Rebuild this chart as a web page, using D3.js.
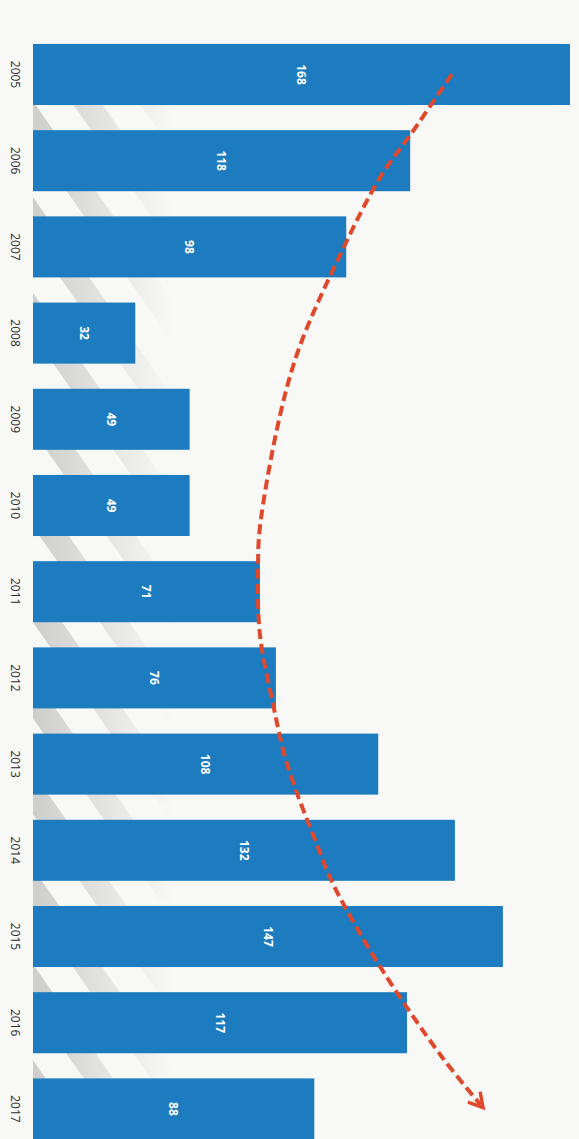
<html>
	<head>
		<script type="text/javascript" src="https://cdn.jsdelivr.net/npm/d3@7"></script>
		<style>
			body { margin: 0; background: #f8f8f6; }
			svg { display: block; }
			.year { font-family: "Open Sans", "DejaVu Sans", sans-serif; font-size: 12px; fill: #2a2a2a; }
			.val { font-family: "Open Sans", "DejaVu Sans", sans-serif; font-size: 12px; font-weight: bold; fill: #fff; }
		</style>
	</head>
	<body>
		<div id="chart"></div>
		<script>
			// chart data
			var years = ["2005", "2006", "2007", "2008", "2009", "2010", "2011", "2012", "2013", "2014", "2015", "2016", "2017"];
			var values = [168, 118, 98, 32, 49, 49, 71, 76, 108, 132, 147, 117, 88];

			// hand drawn trend arc, in data units (year position, value)
			var arcYears = [2005.0, 2005.65, 2006.2, 2007.1, 2008.15, 2008.95, 2010.25, 2010.7, 2011.5, 2012.25, 2013.0, 2013.95, 2014.4, 2015.35, 2016.4, 2016.95];
			var arcValues = [131, 119, 108.5, 96, 83.5, 77.3, 71, 70.4, 71, 74.8, 79.5, 89, 94, 108.6, 128, 140];

			var mainWidth = 579;
			var mainHeight = 1139;
			var barColor = "#1c7cbf";
			var arrowColor = "#e0482b";

			var svg = d3.select("#chart").append("svg")
				.attr("width", mainWidth)
				.attr("height", mainHeight);

			// scales: the chart is turned on its side, bars grow to the right
			var xScale = d3.scaleLinear().domain([0, 168]).range([33, 570]);
			var yScale = d3.scaleBand().domain(years)
				.range([18.8, 1164.6])
				.paddingInner(0.292).paddingOuter(0.292);
			var step = yScale.step();
			var yPos = function(yr) {
				return yScale(years[0]) + yScale.bandwidth() / 2 + (yr - 2005) * step;
			};

			// soft grey shadow stripes on the left (photo of the page)
			var defs = svg.append("defs");
			var pat = defs.append("pattern")
				.attr("id", "shadow")
				.attr("patternUnits", "userSpaceOnUse")
				.attr("width", 55).attr("height", 55)
				.attr("patternTransform", "rotate(-35)");
			pat.append("rect").attr("x", 0).attr("y", 0).attr("width", 24).attr("height", 55)
				.style("fill", "#b5b5b5");
			var fade = defs.append("linearGradient").attr("id", "fade");
			fade.append("stop").attr("offset", "0%").attr("stop-color", "#fff").attr("stop-opacity", 0.9);
			fade.append("stop").attr("offset", "100%").attr("stop-color", "#fff").attr("stop-opacity", 0);
			defs.append("mask").attr("id", "fadeMask").append("rect")
				.attr("x", 33).attr("y", 0).attr("width", 140).attr("height", mainHeight)
				.style("fill", "url(#fade)");
			svg.append("rect")
				.attr("x", 33).attr("y", yScale(years[0]) + yScale.bandwidth())
				.attr("width", 140).attr("height", mainHeight)
				.attr("mask", "url(#fadeMask)")
				.style("fill", "url(#shadow)").style("opacity", 0.7);

			// bars
			svg.selectAll(".bar")
				.data(values)
				.enter().append("rect")
					.attr("class", "bar")
					.attr("x", xScale(0))
					.attr("y", function(d, i) { return yScale(years[i]); })
					.attr("width", function(d) { return xScale(d) - xScale(0); })
					.attr("height", yScale.bandwidth())
					.style("fill", barColor);

			// value labels inside bars
			svg.selectAll(".val")
				.data(values)
				.enter().append("text")
					.attr("class", "val")
					.attr("text-anchor", "middle")
					.attr("dy", "0.35em")
					.attr("transform", function(d, i) {
						var cx = (xScale(0) + xScale(d)) / 2;
						var cy = yScale(years[i]) + yScale.bandwidth() / 2;
						return "translate(" + cx + "," + cy + ") rotate(90)";
					})
					.text(function(d) { return d; });

			// year labels
			svg.selectAll(".year")
				.data(years)
				.enter().append("text")
					.attr("class", "year")
					.attr("text-anchor", "middle")
					.attr("dy", "0.35em")
					.attr("transform", function(d) {
						return "translate(15," + (yScale(d) + yScale.bandwidth() / 2) + ") rotate(90)";
					})
					.text(function(d) { return d; });

			// red dashed arrow
			defs.append("marker")
				.attr("id", "head")
				.attr("viewBox", "0 0 10 10")
				.attr("refX", 6).attr("refY", 5)
				.attr("markerWidth", 5).attr("markerHeight", 5)
				.attr("markerUnits", "strokeWidth")
				.attr("orient", "auto")
				.append("path")
					.attr("d", "M1,1 L8,5 L1,9")
					.style("fill", "none").style("stroke", arrowColor)
					.style("stroke-width", 1.7).style("stroke-linejoin", "miter");

			var arcData = arcYears.map(function(y, i) { return { y: y, v: arcValues[i] }; });
			var line = d3.line()
				.x(function(d) { return xScale(d.v); })
				.y(function(d) { return yPos(d.y); })
				.curve(d3.curveCatmullRom);
			svg.append("path").datum(arcData)
				.attr("d", line)
				.attr("marker-end", "url(#head)")
				.style("fill", "none").style("stroke", arrowColor)
				.style("stroke-width", 4)
				.style("stroke-dasharray", "10,5");
		</script>
	</body>
</html>
